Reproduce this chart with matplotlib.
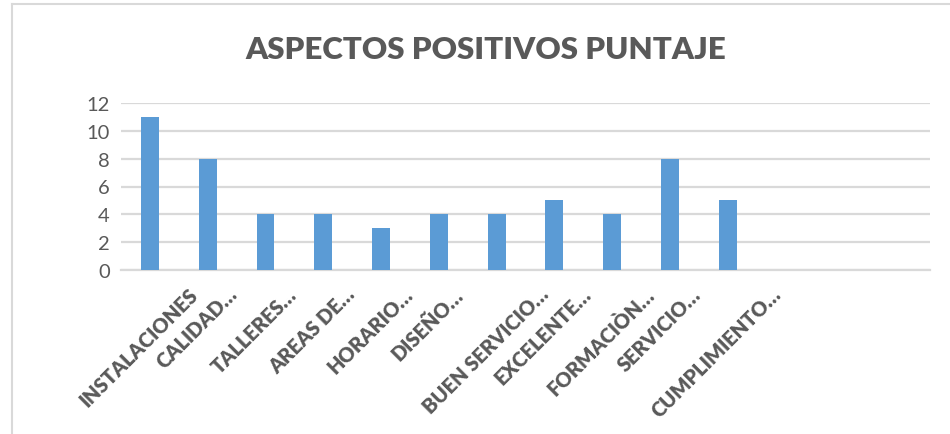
import numpy as np
import matplotlib
matplotlib.use('Agg')
import matplotlib.pyplot as plt
from matplotlib.lines import Line2D
from matplotlib.transforms import ScaledTranslation

# datos del grafico
titulo = 'ASPECTOS POSITIVOS PUNTAJE'
categorias = ['INSTALACIONES', 'CALIDAD…', 'TALLERES…', 'AREAS DE…', 'HORARIO…',
              'DISEÑO…', 'BUEN SERVICIO…', 'EXCELENTE…', 'FORMACIÒN…', 'SERVICIO…',
              'CUMPLIMIENTO…', '', '', '']
puntaje = [11, 8, 4, 4, 3, 4, 4, 5, 4, 8, 5]
yticks = [0, 2, 4, 6, 8, 10, 12]

GRIS = '#595959'
LINEA = '#d9d9d9'
AZUL = '#5b9bd5'
FUENTE = 'Lato'

fig = plt.figure(figsize=(9.5, 4.35), dpi=100)
fig.patch.set_facecolor('white')
W, H = 950., 435.

# marco del grafico (borde izq. y sup.)
fig.add_artist(Line2D([12/W, 12/W], [0, 1 - 5/H], color=LINEA, lw=1.5))
fig.add_artist(Line2D([12/W, 1], [1 - 5/H, 1 - 5/H], color=LINEA, lw=1.5))

ax = fig.add_axes([121/W, (H - 271)/H, 809/W, (271 - 104)/H])
x = np.arange(len(categorias))
ax.bar(x[:len(puntaje)], puntaje, width=0.31, color=AZUL, zorder=3)
ax.set_xlim(-0.5, len(categorias) - 0.5)
ax.set_ylim(0, 12)
ax.set_yticks(yticks)
ax.grid(axis='y', color=LINEA, lw=1.6, zorder=0)
for s in ['top', 'right', 'left']:
    ax.spines[s].set_visible(False)
ax.spines['bottom'].set_color(LINEA)
ax.spines['bottom'].set_linewidth(1.6)
ax.tick_params(axis='both', length=0)
ax.tick_params(axis='y', labelsize=14.5, labelcolor=GRIS, pad=8)
for t in ax.get_yticklabels():
    t.set_family(FUENTE)

ax.set_xticks(x)
ax.set_xticklabels(categorias, rotation=45, ha='center', va='top',
                   fontsize=14.5, fontweight='heavy', color=GRIS, family=FUENTE)
ax.tick_params(axis='x', pad=10)
desplazar = ScaledTranslation(-11/100, 0, fig.dpi_scale_trans)
for t in ax.get_xticklabels():
    t.set_transform(t.get_transform() + desplazar)

fig.text(486/W, 1 - 50/H, titulo, ha='center', va='center', fontsize=22.5,
         fontweight='heavy', color=GRIS, family=FUENTE)

fig.savefig('out.png', dpi=100, facecolor='white')
